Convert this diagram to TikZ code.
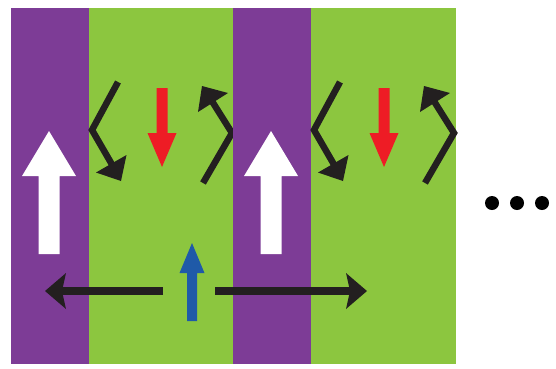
\documentclass[tikz,border=0pt]{standalone}
\definecolor{barpurple}{HTML}{7D3C96}
\definecolor{bargreen}{HTML}{8CC63F}
\definecolor{arrred}{HTML}{EE1C25}
\definecolor{arrblue}{HTML}{1F5AA8}
\definecolor{arrblack}{HTML}{231F20}
\tikzset{
  zig/.style={draw=arrblack, line width=6.5pt, line join=miter},
  horiz/.style={draw=arrblack, line width=8pt},
  headfill/.style={fill=arrblack},
  dot/.style={circle, fill=black, inner sep=0pt, minimum size=14pt}
}
\begin{document}
\begin{tikzpicture}[x=1pt,y=-1pt]
\useasboundingbox (0,0) rectangle (556,368);
\foreach \s in {0,222}{
  \begin{scope}[xshift=\s pt]
    % bands
    \fill[barpurple] (11,8) rectangle (89,364);
    \fill[bargreen] (89,8) rectangle (233.5,364);
    % white arrow
    \fill[white] (38.5,254) -- (38.5,176) -- (22,176) -- (49,131) -- (76,176) -- (59.5,176) -- (59.5,254) -- cycle;
    % red arrow
    \fill[arrred] (156.5,88) -- (156.5,133) -- (147.5,133) -- (162,167) -- (176.5,133) -- (167.5,133) -- (167.5,88) -- cycle;
    % left zigzag arrow
    \coordinate (zl1) at (118,82);
    \coordinate (zl2) at (92,130);
    \coordinate (zl3) at (114,168);
    \draw[zig] (zl1) -- (zl2) -- (zl3);
    \fill[headfill] (121,181) -- (126.5,155) -- (96,172.5) -- cycle;
    % right zigzag arrow
    \coordinate (zr1) at (203,183);
    \coordinate (zr2) at (232,133);
    \coordinate (zr3) at (210,98);
    \draw[zig] (zr1) -- (zr2) -- (zr3);
    \fill[headfill] (202,86) -- (198,112) -- (228,93) -- cycle;
  \end{scope}
}
% blue arrow
\fill[arrblue] (187,321) -- (187,273) -- (179.5,273) -- (192,243) -- (204.5,273) -- (197,273) -- (197,321) -- cycle;
% black horizontal arrows
\coordinate (hl0) at (163,291);
\coordinate (hl1) at (60,291);
\coordinate (hr0) at (215,291);
\coordinate (hr1) at (352,291);
\draw[horiz] (hl0) -- (hl1);
\draw[horiz] (hr0) -- (hr1);
\fill[headfill] (45,291) -- (66,273) -- (62,291) -- (66,309) -- cycle;
\fill[headfill] (367,291) -- (346,273) -- (350,291) -- (346,309) -- cycle;
% dots
\node[dot] (d1) at (492,203) {};
\node[dot] (d2) at (517,203) {};
\node[dot] (d3) at (542,203) {};
\end{tikzpicture}
\end{document}
